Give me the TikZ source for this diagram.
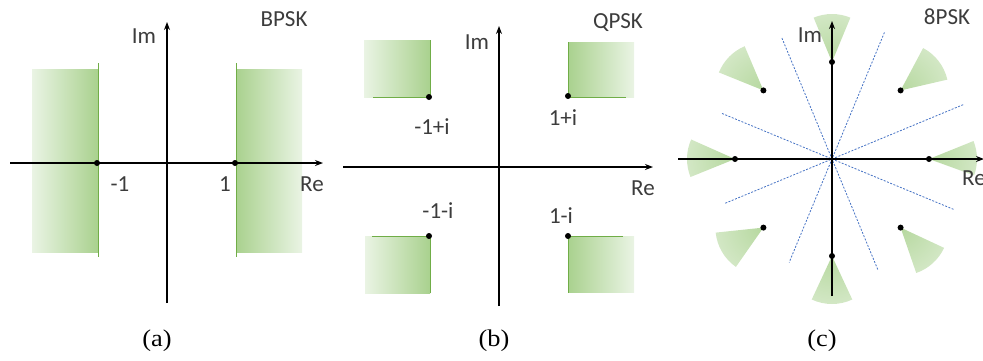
\documentclass[tikz,border=0pt]{standalone}
\usepackage{fontspec}
\setmainfont{Liberation Serif}
\newfontfamily\lblfont{Carlito}
\usetikzlibrary{arrows.meta}
\definecolor{gdark}{HTML}{A9D18E}
\definecolor{glight}{HTML}{EAF4E4}
\definecolor{gline}{HTML}{70AD47}
\definecolor{txt}{HTML}{3C3C3C}
\definecolor{dblue}{HTML}{4472C4}
\begin{document}
\begin{tikzpicture}[x=1pt,y=-1pt,
 axis/.style={line width=1.2pt,-{Stealth[length=8pt,width=6pt]}},
 lbl/.style={font=\lblfont\fontsize{23}{26}\selectfont, text=txt, inner sep=0pt},
 captxt/.style={font=\fontsize{24}{28}\selectfont, inner sep=0pt, xscale=1.1},
 dot/.style={circle,fill=black,inner sep=0pt,minimum size=6pt},
 gedge/.style={gline, line width=1pt},
 ray/.style={dblue, line width=0.8pt, dash pattern=on 2pt off 1.5pt},
]
\useasboundingbox (0,0) rectangle (983,360);

% ---------- (a) BPSK ----------
\shade[left color=glight, right color=gdark] (32,69) rectangle (98,252);
\shade[left color=gdark, right color=glight] (236,69) rectangle (302,252);
\draw[gedge] (98,63) -- (98,257);
\draw[gedge] (236,63) -- (236,257);
\coordinate (aw) at (10,163); \coordinate (ae) at (323,163);
\coordinate (as) at (167,303); \coordinate (an) at (167,22);
\draw[axis] (aw) -- (ae);
\draw[axis] (as) -- (an);
\node[dot] (am1) at (97,163) {};
\node[dot] (ap1) at (235,163) {};
\node[lbl] (alm1) at (120,184) {-1};
\node[lbl] (alp1) at (225,184) {1};
\node[lbl] (are) at (312,184) {Re};
\node[lbl] (aim) at (144,36) {Im};
\node[lbl] (at) at (284,19) {BPSK};
\node[captxt] (acap) at (157,341) {(a)};

% ---------- (b) QPSK ----------
\shade[left color=glight, right color=gdark] (364,40) rectangle (430,97);
\shade[left color=gdark, right color=glight] (568,42) rectangle (634,97);
\shade[left color=glight, right color=gdark] (365,236) rectangle (430,293);
\shade[left color=gdark, right color=glight] (568,236) rectangle (634,292);
\draw[gedge] (430,40) -- (430,97) -- (373,97);
\draw[gedge] (568,42) -- (568,97) -- (626,97);
\draw[gedge] (372,236) -- (430,236) -- (430,293);
\draw[gedge] (623,236) -- (568,236) -- (568,293);
\coordinate (bw) at (343,167); \coordinate (be) at (653,167);
\coordinate (bs) at (499,306); \coordinate (bn) at (499,26);
\draw[axis] (bw) -- (be);
\draw[axis] (bs) -- (bn);
\node[dot] (btl) at (429,97) {};
\node[dot] (btr) at (568,96) {};
\node[dot] (bbl) at (429,236) {};
\node[dot] (bbr) at (568,236) {};
\node[lbl] (bltl) at (432,127) {-1+i};
\node[lbl] (bltr) at (563,118) {1+i};
\node[lbl] (blbl) at (438,211) {-1-i};
\node[lbl] (blbr) at (561,216) {1-i};
\node[lbl] (bre) at (643,188) {Re};
\node[lbl] (bim) at (477,42) {Im};
\node[lbl] (bt) at (618,23) {QPSK};
\node[captxt] (bcap) at (494,341) {(b)};

% ---------- (c) 8PSK ----------
\begin{scope}[shift={(832,159)}, y=1pt]
  \foreach \t/\aa/\ab in {0/-20/22, 45/13/62, 90/67.5/112.5, 135/113/158,
                          180/156/202, 225/186/235, 270/-115/-65, 315/-71/-25}{
    \begin{scope}
      \clip (\t:97) -- ++(\aa:48) arc[start angle=\aa, end angle=\ab, radius=48] -- cycle;
      \shade[inner color=gdark!85!white, outer color=glight!70!white] (\t:97) circle (98);
    \end{scope}
  }
  \coordinate (r1a) at (112.5:131); \coordinate (r1b) at (292.5:121);
  \coordinate (r2a) at (67.5:137);  \coordinate (r2b) at (247.5:112);
  \coordinate (r3a) at (157.5:119); \coordinate (r3b) at (337.5:132);
  \coordinate (r4a) at (22.5:142);  \coordinate (r4b) at (202.5:117);
  \draw[ray] (r1a) -- (r1b);
  \draw[ray] (r2a) -- (r2b);
  \draw[ray] (r3a) -- (r3b);
  \draw[ray] (r4a) -- (r4b);
  \coordinate (cw) at (-154,0); \coordinate (ce) at (152,0);
  \coordinate (cs) at (0,-137); \coordinate (cn) at (0,138);
  \draw[axis] (cw) -- (ce);
  \draw[axis] (cs) -- (cn);
  \foreach \t in {0,45,...,315}{
    \node[dot] (c\t) at (\t:97) {};
  }
\end{scope}
\node[lbl] (cim) at (810,35) {Im};
\node[lbl, anchor=west] (cre) at (962,178) {Re};
\node[lbl] (ct) at (947,17) {8PSK};
\node[captxt] (ccap) at (822,341) {(c)};
\end{tikzpicture}
\end{document}
